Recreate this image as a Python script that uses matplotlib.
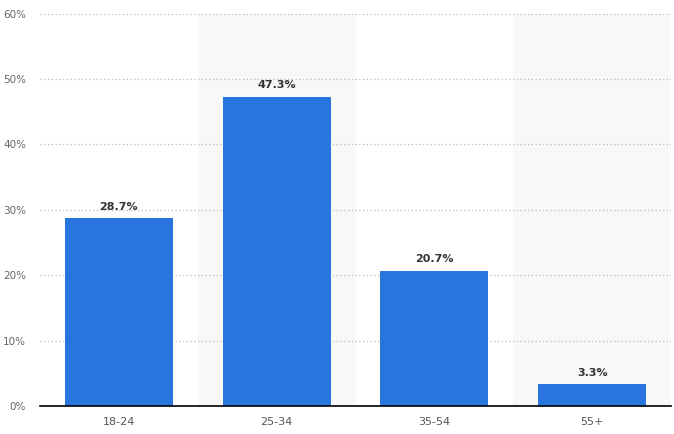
import matplotlib.pyplot as plt
import numpy as np

categories = ['18-24', '25-34', '35-54', '55+']
shares = [28.7, 47.3, 20.7, 3.3]
yticks = [0, 10, 20, 30, 40, 50, 60]

fig = plt.figure(figsize=(6.74, 4.34), dpi=100)
ax = fig.add_axes([40 / 674, 28 / 434, 631 / 674, 392.5 / 434])

x = np.arange(len(categories))
for i in x:
    if i % 2 == 1:
        ax.axvspan(i - 0.5, i + 0.5, color='#f8f8f8', zorder=0, lw=0)

ax.bar(x, shares, width=0.685, color='#2876dd', zorder=3)
for xi, v in zip(x, shares):
    ax.text(xi, v + 1.0, '{:.1f}%'.format(v), ha='center', va='bottom',
            fontsize=8, fontweight='bold', color='#333333', zorder=4)

ax.set_xlim(-0.5, len(categories) - 0.5)
ax.set_ylim(0, 60)
ax.set_yticks(yticks)
ax.set_yticklabels(['{}%'.format(t) for t in yticks])
ax.set_xticks(x)
ax.set_xticklabels(categories)
ax.tick_params(axis='y', length=0, pad=10, labelsize=7.5, labelcolor='#666666')
ax.tick_params(axis='x', length=0, pad=8, labelsize=8, labelcolor='#555555')
ax.grid(axis='y', linestyle=(0, (1, 2)), color='#bbbbbb', linewidth=0.9, zorder=1)
ax.set_axisbelow(True)
for s in ['top', 'right', 'left']:
    ax.spines[s].set_visible(False)
ax.spines['bottom'].set_color('#000000')
ax.spines['bottom'].set_linewidth(1.2)
ax.spines['bottom'].set_zorder(5)

fig.savefig('out.png', dpi=100)
